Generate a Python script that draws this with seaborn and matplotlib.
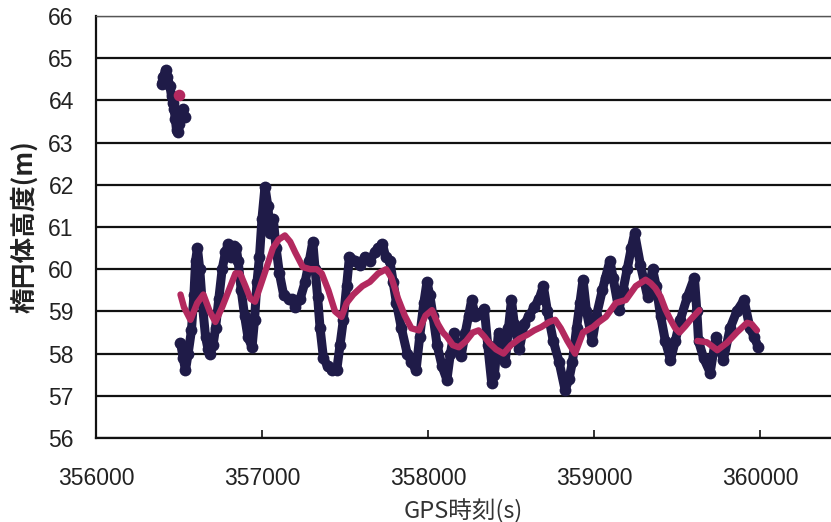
import matplotlib
matplotlib.use("Agg")
import matplotlib.pyplot as plt
import pandas as pd
import seaborn as sns

# ---------------- data ----------------
cluster_t = [356395, 356405, 356419, 356430, 356445, 356455, 356462, 356470,
             356478, 356485, 356492, 356500, 356512, 356525, 356535]
cluster_v = [64.4, 64.55, 64.72, 64.55, 64.35, 64.1, 63.95, 63.8,
             63.55, 63.3, 63.25, 63.45, 63.7, 63.8, 63.6]

main_t = [356509, 356525, 356539, 356555, 356575, 356590, 356600, 356611, 356625, 356640,
          356660, 356675, 356689, 356705, 356720, 356740, 356760, 356780, 356797, 356815,
          356830, 356845, 356856, 356875, 356895, 356915, 356940, 356955, 356970, 356985,
          357000, 357018, 357035, 357050, 357068, 357085, 357105, 357130, 357160, 357180,
          357200, 357230, 357260, 357285, 357306, 357320, 357335, 357350, 357370, 357395,
          357420, 357450, 357470, 357490, 357510, 357527, 357560, 357590, 357620, 357650,
          357680, 357700, 357725, 357745, 357770, 357790, 357810, 357840, 357875, 357900,
          357928, 357950, 357975, 357994, 358010, 358030, 358055, 358085, 358114, 358135,
          358157, 358175, 358200, 358225, 358245, 358263, 358285, 358305, 358340, 358360,
          358384, 358400, 358425, 358450, 358465, 358485, 358503, 358520, 358550, 358580,
          358610, 358640, 358670, 358695, 358720, 358755, 358790, 358826, 358850, 358870,
          358895, 358915, 358934, 358955, 358990, 359015, 359050, 359070, 359096, 359115,
          359150, 359175, 359200, 359225, 359245, 359280, 359323, 359353, 359375, 359401,
          359430, 359461, 359490, 359520, 359563, 359605, 359620, 359630, 359660, 359700,
          359735, 359780, 359820, 359860, 359904, 359940, 359965, 359990]
main_v = [58.26, 57.9, 57.6, 58.0, 58.55, 59.4, 60.2, 60.5, 60.0, 59.2,
          58.4, 58.1, 58.0, 58.2, 58.6, 59.3, 60.0, 60.4, 60.6, 60.3,
          60.55, 60.5, 60.2, 59.5, 58.9, 58.4, 58.15, 58.8, 59.7, 60.3,
          61.2, 61.95, 61.5, 60.85, 61.2, 60.5, 59.9, 59.4, 59.3, 59.3,
          59.1, 59.3, 59.7, 60.2, 60.65, 60.0, 59.35, 58.6, 57.9, 57.7,
          57.6, 57.6, 58.2, 58.8, 59.6, 60.3, 60.2, 60.1, 60.3, 60.2,
          60.4, 60.5, 60.6, 60.3, 60.2, 59.7, 59.2, 58.6, 58.0, 57.8,
          57.6, 58.4, 59.2, 59.7, 59.4, 58.9, 58.2, 57.7, 57.38, 58.0,
          58.5, 58.1, 57.95, 58.5, 58.9, 59.27, 58.9, 58.95, 59.05, 58.2,
          57.3, 57.5, 58.5, 58.0, 57.8, 58.6, 59.27, 58.7, 58.1, 58.7,
          58.9, 59.1, 59.3, 59.6, 59.0, 58.3, 57.8, 57.14, 57.4, 57.8,
          58.6, 59.2, 59.75, 59.0, 58.3, 58.9, 59.5, 59.8, 60.2, 59.8,
          59.03, 59.5, 60.0, 60.5, 60.85, 60.1, 59.35, 60.0, 59.6, 58.9,
          58.3, 57.85, 58.3, 58.8, 59.35, 59.8, 59.0, 58.3, 57.9, 57.55,
          58.4, 57.85, 58.6, 59.0, 59.27, 58.6, 58.4, 58.15]

avg0_t = [356500]
avg0_v = [64.12]

avg1_t = [356509, 356530, 356569, 356610, 356647, 356685, 356719, 356760, 356800, 356840,
          356868, 356900, 356930, 356958, 356990, 357020, 357066, 357100, 357138, 357170,
          357200, 357246, 357290, 357330, 357360, 357400, 357440, 357479, 357510, 357550,
          357605, 357650, 357700, 357748, 357780, 357820, 357860, 357900, 357946, 357985,
          358024, 358060, 358090, 358114, 358150, 358186, 358230, 358270, 358305, 358340,
          358370, 358410, 358455, 358500, 358550, 358600, 358640, 358683, 358730, 358766,
          358800, 358840, 358886, 358934, 358994, 359030, 359072, 359132, 359192, 359252,
          359311, 359341, 359370, 359401, 359430, 359461, 359490, 359515, 359550, 359581,
          359635]
avg1_v = [59.4, 59.1, 58.8, 59.2, 59.4, 59.0, 58.75, 59.1, 59.5, 59.9,
          59.9, 59.6, 59.3, 59.23, 59.6, 59.95, 60.5, 60.7, 60.8, 60.65,
          60.4, 60.05, 60.0, 60.0, 59.9, 59.5, 59.0, 58.87, 59.2, 59.4,
          59.6, 59.7, 59.9, 60.0, 59.8, 59.3, 58.9, 58.6, 58.55, 58.9,
          59.03, 58.7, 58.5, 58.4, 58.2, 58.15, 58.3, 58.5, 58.55, 58.4,
          58.25, 58.1, 58.0, 58.2, 58.35, 58.45, 58.55, 58.63, 58.75, 58.8,
          58.6, 58.3, 58.0, 58.5, 58.63, 58.75, 58.87, 59.2, 59.27, 59.6,
          59.75, 59.67, 59.55, 59.35, 59.05, 58.8, 58.6, 58.5, 58.65, 58.8,
          59.03]

avg2_t = [359623, 359680, 359743, 359800, 359860, 359922, 359950, 359982]
avg2_v = [58.3, 58.27, 58.08, 58.25, 58.5, 58.73, 58.7, 58.55]

y_ticks = list(range(56, 67))
x_ticks = [356000, 357000, 358000, 359000, 360000]
x_label = "GPS時刻(s)"
y_label = "楕円体高度(m)"

DARK = "#1f1b48"
MAGENTA = "#b3295f"

# ---------------- figure ----------------
sns.set_theme(style="white")
plt.rcParams["font.family"] = ["Liberation Sans", "Noto Sans CJK JP", "DejaVu Sans"]

fig = plt.figure(figsize=(8.31, 5.22), dpi=100)
ax = fig.add_axes([96 / 831, 84 / 522, 735 / 831, 422 / 522])

dots = pd.DataFrame({
    "t": cluster_t + main_t,
    "v": cluster_v + main_v,
    "seg": [0] * len(cluster_t) + [1] * len(main_t),
})
sns.lineplot(data=dots, x="t", y="v", units="seg", estimator=None, sort=False,
             color=DARK, lw=6.5, marker="o", markersize=8.5, markeredgewidth=0,
             ax=ax, zorder=3)

avg = pd.DataFrame({
    "t": avg1_t + avg2_t,
    "v": avg1_v + avg2_v,
    "seg": [1] * len(avg1_t) + [2] * len(avg2_t),
})
sns.lineplot(data=avg, x="t", y="v", units="seg", estimator=None, sort=False,
             color=MAGENTA, lw=4.6, ax=ax, zorder=4)
sns.scatterplot(x=avg0_t, y=avg0_v, color=MAGENTA, s=70, linewidth=0, ax=ax, zorder=4)

ax.set_xlim(356000, 360428)
ax.set_ylim(56, 66)
ax.set_yticks(y_ticks)
ax.set_xticks(x_ticks)
ax.set_xticklabels([str(x) for x in x_ticks])
ax.set_yticklabels([str(y) for y in y_ticks])

ax.set_axisbelow(True)
ax.yaxis.grid(True, color="#111111", lw=1.6)
ax.xaxis.grid(False)

for side in ["left", "bottom"]:
    ax.spines[side].set_color("#111111")
    ax.spines[side].set_linewidth(1.6)
ax.spines["top"].set_color("#555555")
ax.spines["top"].set_linewidth(1.0)
ax.spines["right"].set_visible(False)

ax.tick_params(axis="x", direction="in", length=6, width=1.2, color="#111111",
               pad=21, labelsize=16.5, labelcolor="#222222", bottom=True)
ax.tick_params(axis="y", length=0, pad=16, labelsize=16.5, labelcolor="#222222")

ax.set_xlabel(x_label, fontsize=17, family=["Noto Sans CJK JP", "DejaVu Sans"],
              color="#333333", labelpad=6)
ax.set_ylabel(y_label, fontsize=18.5, family=["Noto Sans CJK JP", "DejaVu Sans"],
              fontweight="bold", color="#222222")
ax.yaxis.set_label_coords(-0.078, 0.5)

fig.savefig("out.png", dpi=100)
